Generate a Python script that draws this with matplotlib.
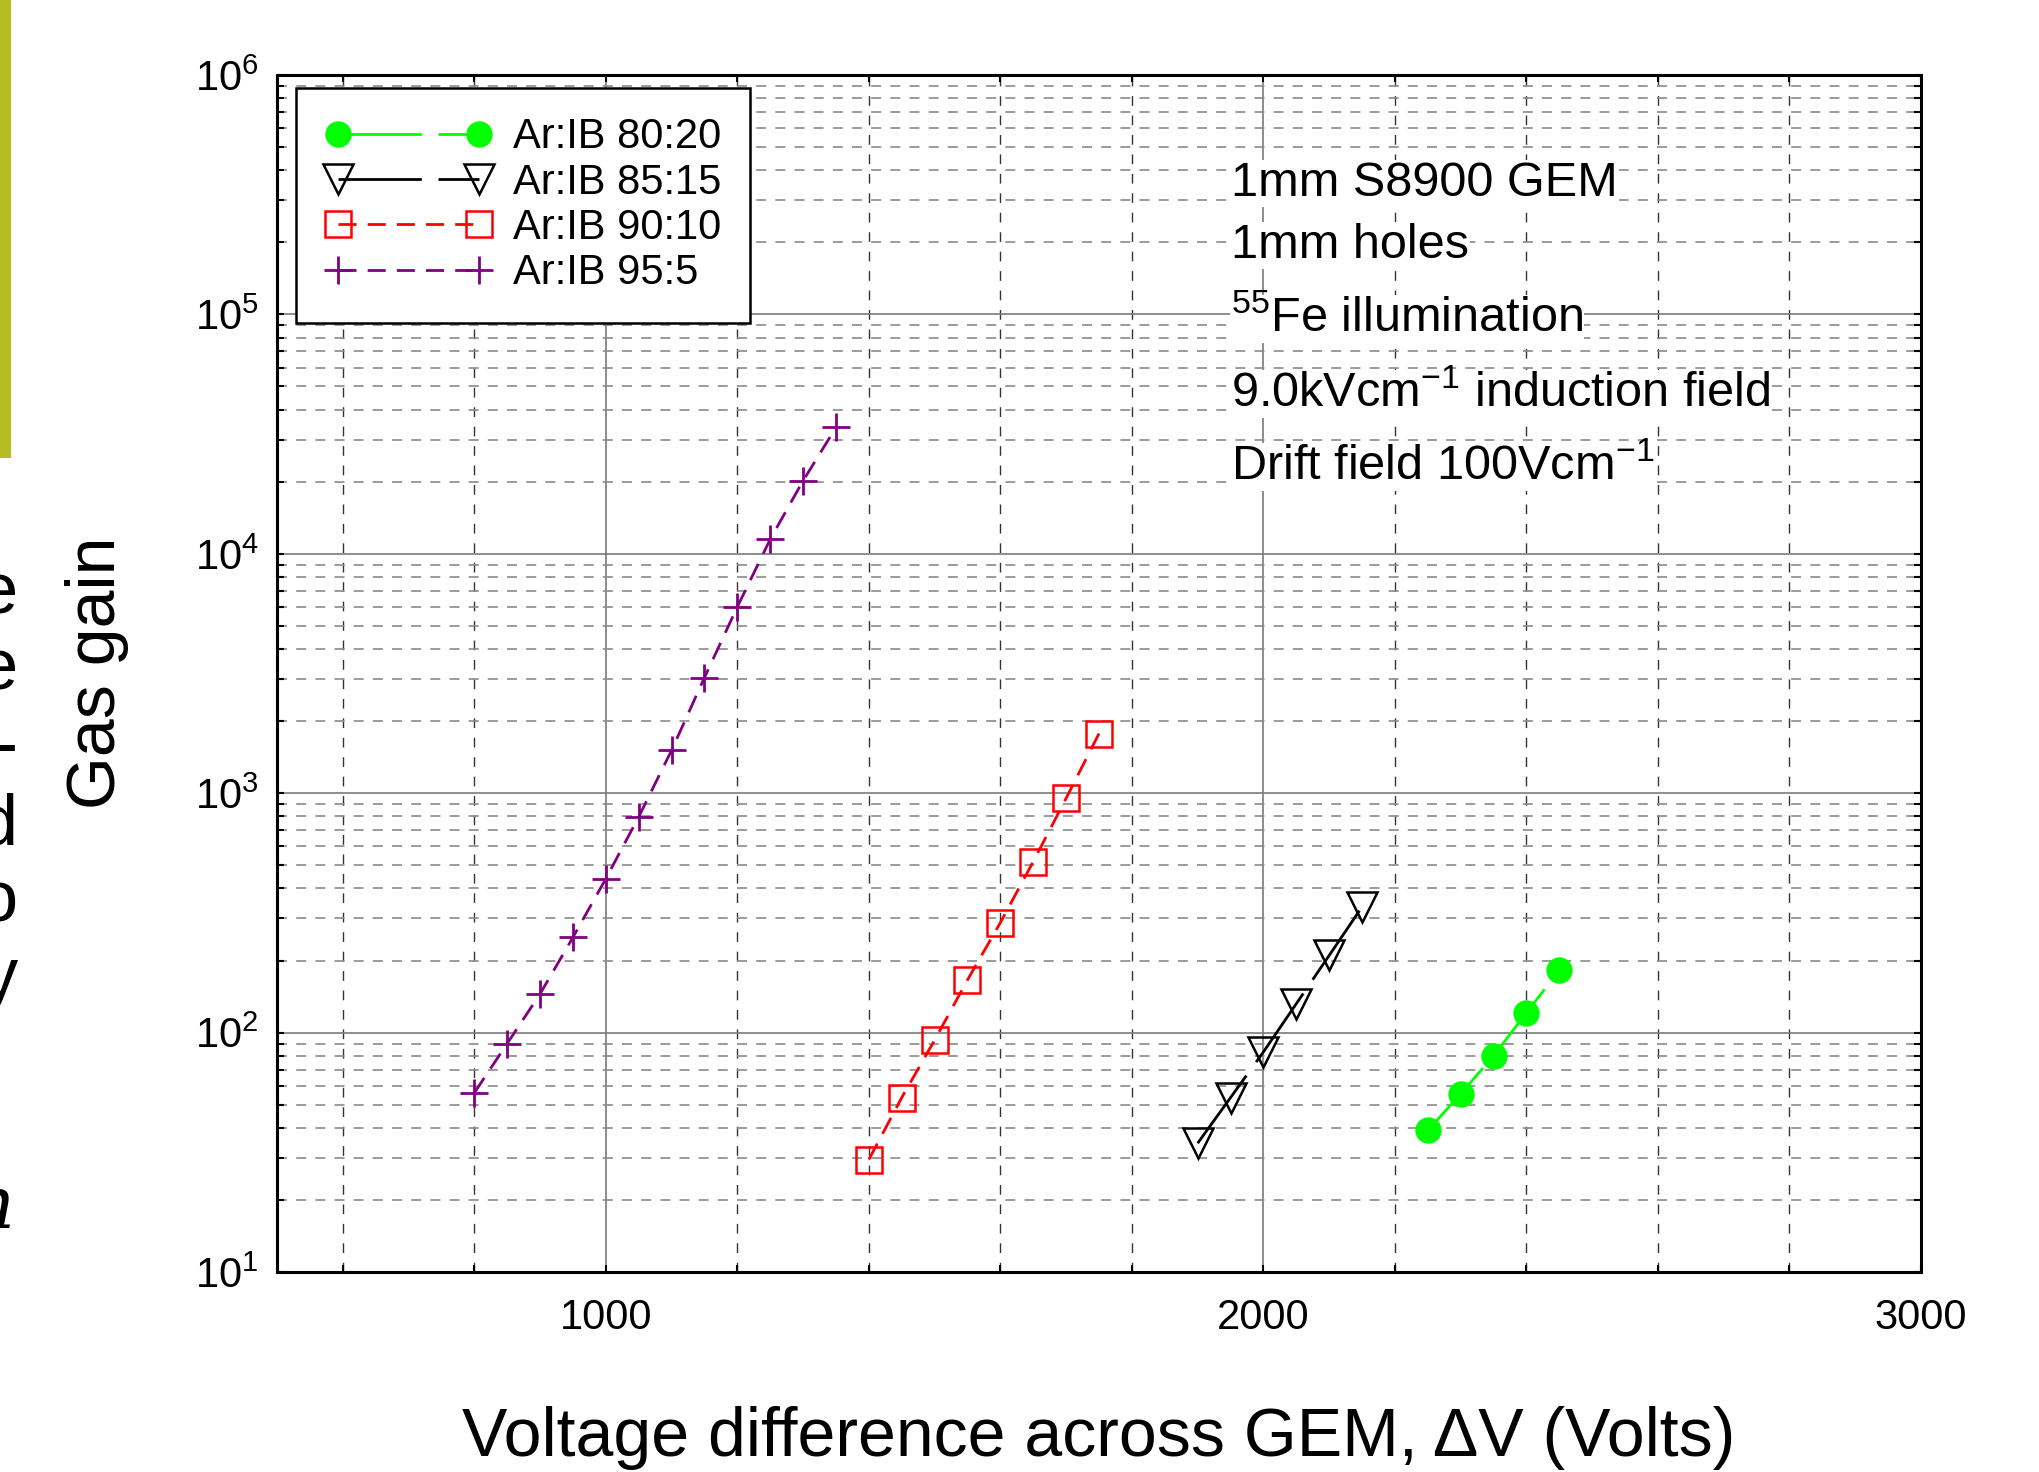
import matplotlib.pyplot as plt
from matplotlib.patches import Rectangle
from matplotlib.ticker import FixedLocator, FixedFormatter, MultipleLocator, LogLocator, NullFormatter

# gas gain vs voltage for the four Ar:isobutane mixtures
v_8020 = [2250, 2300, 2350, 2400, 2450]
g_8020 = [39, 55.5, 80, 121, 182]

v_8515 = [1900, 1950, 2000, 2050, 2100, 2150]
g_8515 = [34.5, 53.5, 83, 132, 210, 335]

v_9010 = [1400, 1450, 1500, 1550, 1600, 1650, 1700, 1750]
g_9010 = [29.5, 53.5, 93, 166, 288, 518, 953, 1775]

v_955 = [800, 850, 900, 950, 1000, 1050, 1100, 1150, 1200, 1250, 1300, 1350]
g_955 = [56, 90, 145, 250, 439, 796, 1510, 3040, 6000, 11500, 20200, 33700]

labels = ['Ar:IB 80:20', 'Ar:IB 85:15', 'Ar:IB 90:10', 'Ar:IB 95:5']

x_ticks = [1000, 2000, 3000]
x_tick_labels = ['1000', '2000', '3000']
y_ticks = [1e1, 1e2, 1e3, 1e4, 1e5, 1e6]
y_tick_labels = ['$10^{1}$', '$10^{2}$', '$10^{3}$', '$10^{4}$', '$10^{5}$', '$10^{6}$']

notes = ['1mm S8900 GEM', '1mm holes', '$^{55}$Fe illumination',
         '9.0kVcm$^{-1}$ induction field', 'Drift field 100Vcm$^{-1}$']

# right-hand ends of the cut-off slide text on the left edge
edge_chars = ['e', 'e', '-', 'd', 'o', 'y']

plt.rcParams['font.family'] = ['Liberation Sans', 'DejaVu Sans']
plt.rcParams['mathtext.default'] = 'regular'

W, H = 2039, 1472
fig = plt.figure(figsize=(W / 100, H / 100), dpi=100)
ax = fig.add_axes([277 / W, 1 - 1272 / H, 1644 / W, 1197 / H])

ax.plot(v_8020, g_8020, color='#00ff00', marker='o', ms=18, mec='#00ff00',
        lw=2, dashes=(30, 6), label=labels[0])
ax.plot(v_8515, g_8515, color='black', marker='v', ms=22, mfc='none', mew=1.8,
        lw=2, dashes=(30, 6), label=labels[1])
ax.plot(v_9010, g_9010, color='red', marker='s', ms=18.5, mfc='none', mew=1.8,
        lw=2, dashes=(6.5, 4), label=labels[2])
ax.plot(v_955, g_955, color='#800080', marker='+', ms=20, mew=2,
        lw=2, dashes=(6.5, 4), label=labels[3])

ax.set_yscale('log')
ax.set_xlim(500, 3000)
ax.set_ylim(10, 1e6)

ax.xaxis.set_major_locator(FixedLocator(x_ticks))
ax.xaxis.set_major_formatter(FixedFormatter(x_tick_labels))
ax.xaxis.set_minor_locator(MultipleLocator(200))
ax.yaxis.set_major_locator(FixedLocator(y_ticks))
ax.yaxis.set_major_formatter(FixedFormatter(y_tick_labels))
ax.yaxis.set_minor_locator(LogLocator(base=10, subs=range(2, 10)))
ax.yaxis.set_minor_formatter(NullFormatter())

ax.set_axisbelow(True)
ax.grid(which='major', color='#7a7a7a', lw=1.2, ls='-')
ax.grid(which='minor', axis='y', color='#8a8a8a', lw=1.2, ls=(0, (6, 5.5)))
ax.grid(which='minor', axis='x', color='#333333', lw=1.0, ls=(0, (7, 7)))

ax.tick_params(which='both', direction='in', top=True, right=True,
               length=5, width=1.5, labelsize=30)
ax.tick_params(axis='y', pad=13)
ax.tick_params(axis='x', pad=19)
for sp in ax.spines.values():
    sp.set_linewidth(2.2)

leg = ax.legend(loc='upper left', bbox_to_anchor=(19 / 1644, 1 - 13 / 1197),
                borderaxespad=0, fontsize=30, numpoints=2, handlelength=4.0,
                handletextpad=0.5, labelspacing=0.13, borderpad=0.7,
                fancybox=False, framealpha=1, edgecolor='black')
leg.get_frame().set_linewidth(1.8)

for txt, yb in zip(notes, [196, 258, 332, 407, 480]):
    fig.text(1231 / W, 1 - yb / H, txt, fontsize=35, va='baseline', ha='left',
             bbox=dict(fc='white', ec='none', pad=1))

fig.text(1099 / W, 1 - 1456 / H, 'Voltage difference across GEM, \u0394V (Volts)',
         fontsize=49, ha='center', va='baseline')
fig.text(97 / W, 1 - 673 / H, 'Gas gain', fontsize=49, rotation=90,
         ha='center', va='center')

# slide decoration cut by the crop
fig.add_artist(Rectangle((0, 1 - 458 / H), 10.5 / W, 458 / H,
                         transform=fig.transFigure, color='#b6bd20', lw=0))
for i, ch in enumerate(edge_chars):
    fig.text(18 / W, 1 - (613 + 77 * i) / H, ch, fontsize=52,
             ha='right', va='baseline')
fig.text(16 / W, 1 - 1228 / H, 'h', fontsize=52, family='DejaVu Serif',
         style='italic', ha='right', va='baseline')

fig.savefig('out.png', dpi=100)
